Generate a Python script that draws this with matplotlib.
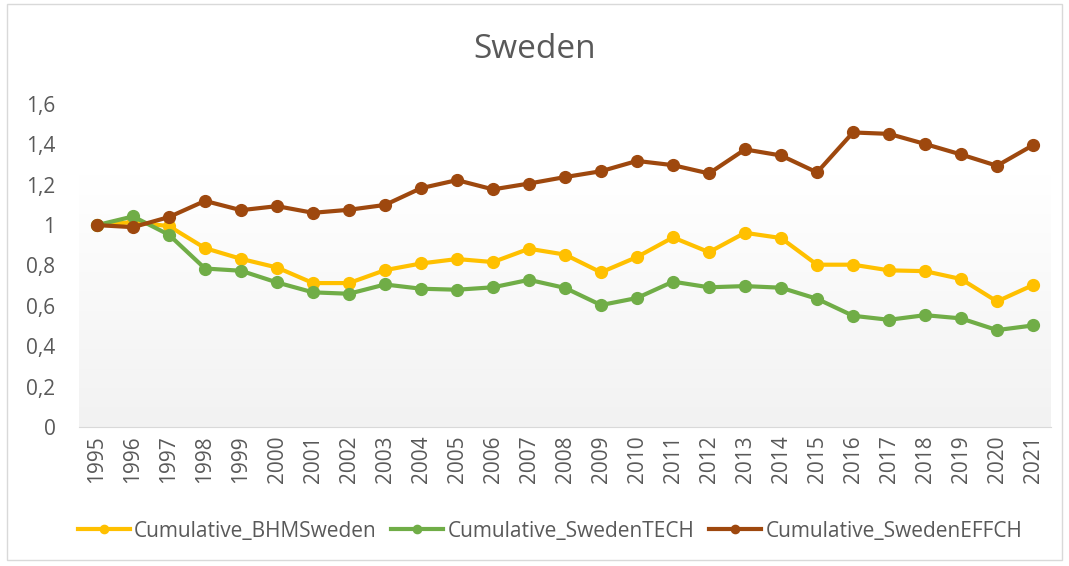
import numpy as np
import matplotlib.pyplot as plt
from matplotlib.ticker import FuncFormatter
from matplotlib.patches import Rectangle
from matplotlib.colors import LinearSegmentedColormap

years = list(range(1995, 2022))

bhm = [1.00, 1.015, 0.995, 0.886, 0.833, 0.790, 0.713, 0.713, 0.777, 0.810,
       0.832, 0.817, 0.883, 0.854, 0.766, 0.842, 0.939, 0.866, 0.962, 0.936,
       0.804, 0.804, 0.776, 0.772, 0.733, 0.622, 0.703]
tech = [1.00, 1.043, 0.952, 0.785, 0.774, 0.716, 0.667, 0.660, 0.706, 0.685,
        0.680, 0.692, 0.729, 0.689, 0.604, 0.639, 0.720, 0.692, 0.698, 0.690,
        0.635, 0.551, 0.531, 0.554, 0.538, 0.480, 0.503]
effch = [1.00, 0.990, 1.040, 1.120, 1.074, 1.094, 1.061, 1.076, 1.100, 1.183,
         1.223, 1.177, 1.206, 1.238, 1.267, 1.318, 1.297, 1.256, 1.375, 1.345,
         1.261, 1.459, 1.452, 1.402, 1.350, 1.294, 1.396]

labels = ["Cumulative_BHMSweden", "Cumulative_SwedenTECH", "Cumulative_SwedenEFFCH"]
colors = ["#FFC000", "#70AD47", "#9E480E"]

plt.rcParams['font.family'] = ['Open Sans', 'DejaVu Sans']
gray = "#595959"

fig = plt.figure(figsize=(10.69, 5.66), dpi=100)
fig.patches.append(Rectangle((7 / 1069, 6 / 566), 1055 / 1069, 556 / 566,
                             transform=fig.transFigure, fill=False,
                             edgecolor="#d9d9d9", linewidth=1))

ax = fig.add_axes([79 / 1069, (566 - 427) / 566, 972 / 1069, 323 / 566])

# soft gradient behind the lower part of the plot
grad = np.linspace(0, 1, 256).reshape(-1, 1)
cmap = LinearSegmentedColormap.from_list("g", ["#f2f2f2", "#ffffff"])
ax.imshow(grad, cmap=cmap, aspect="auto",
          extent=[1994.5, 2021.5, 0, 1.248], origin="lower", zorder=0)

for vals, lab, c in zip([bhm, tech, effch], labels, colors):
    ax.plot(years, vals, color=c, linewidth=3, marker="o", markersize=8.5,
            label=lab, zorder=3)

ax.set_xlim(1994.5, 2021.5)
ax.set_ylim(0, 1.6)
ax.set_yticks(np.arange(0, 1.61, 0.2))
ax.yaxis.set_major_formatter(FuncFormatter(
    lambda v, p: ("%g" % round(v, 1)).replace(".", ",")))
ax.set_xticks(years)
ax.set_xticklabels([str(y) for y in years], rotation=90)

for s in ["top", "right", "left"]:
    ax.spines[s].set_visible(False)
ax.spines["bottom"].set_color("#d9d9d9")
ax.tick_params(axis="both", length=0, labelsize=15, colors=gray)
ax.tick_params(axis="y", pad=17)
ax.tick_params(axis="x", pad=6)

fig.text(0.5, 1 - 49 / 566, "Sweden", ha="center", va="center",
         fontsize=24, color=gray)

leg = fig.legend(loc="center", bbox_to_anchor=(550 / 1069, 1 - 531 / 566), ncol=3,
                 frameon=False, fontsize=15, handlelength=2.5,
                 columnspacing=0.7, handletextpad=0.2, markerscale=0.7)
for t in leg.get_texts():
    t.set_color(gray)

fig.savefig("out.png", dpi=100)
